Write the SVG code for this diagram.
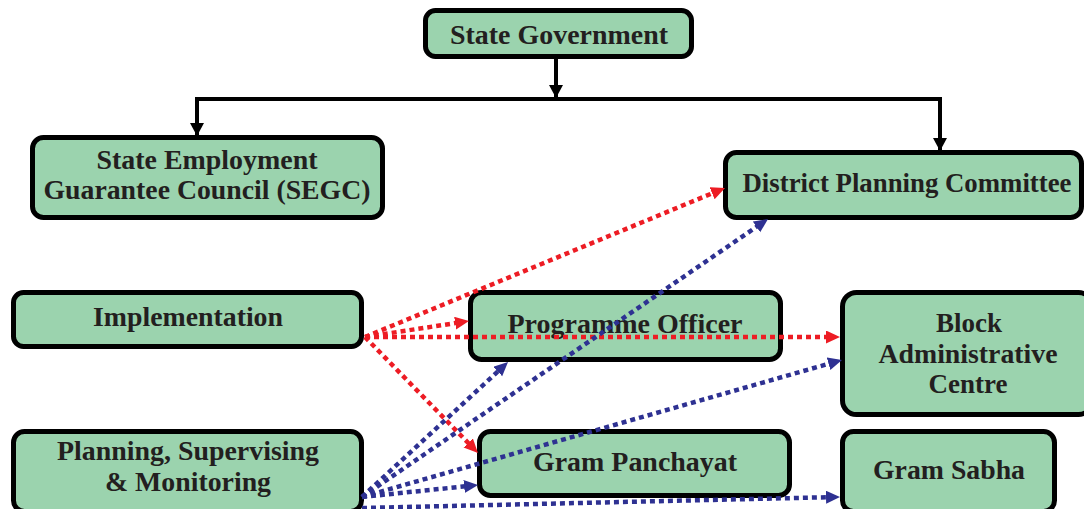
<svg xmlns="http://www.w3.org/2000/svg" width="1084" height="509" viewBox="0 0 1084 509">
<style>
.box{fill:#9bd3ae;stroke:#000;stroke-width:5}
.t{font-family:"Liberation Serif","Times New Roman",serif;font-weight:bold;font-size:27px;fill:#231f20;text-anchor:middle}
.blk{fill:none;stroke:#000;stroke-width:4}
.red{fill:none;stroke:#ed1c24;stroke-width:4.5;stroke-dasharray:5 4}
.blue{fill:none;stroke:#2e3192;stroke-width:4.5;stroke-dasharray:5 4}
</style>
<defs>
<marker id="ab" markerUnits="userSpaceOnUse" markerWidth="14" markerHeight="14" refX="12" refY="7" orient="auto"><path d="M0,0 L13,7 L0,14 z" fill="#000"/></marker>
<marker id="ar" markerUnits="userSpaceOnUse" markerWidth="16" markerHeight="14" refX="4" refY="6.5" orient="auto"><path d="M0,0 L14,6.5 L0,13 z" fill="#ed1c24"/></marker>
<marker id="au" markerUnits="userSpaceOnUse" markerWidth="16" markerHeight="14" refX="4" refY="6.5" orient="auto"><path d="M0,0 L14,6.5 L0,13 z" fill="#2e3192"/></marker>
</defs>
<rect width="1084" height="509" fill="#fff"/>
<g id="state-government"><rect class="box" x="425.5" y="10.5" width="266" height="46" rx="10"/><text class="t" x="559" y="44" textLength="218" lengthAdjust="spacingAndGlyphs">State Government</text></g>
<g id="segc"><rect class="box" x="32.5" y="137.5" width="350" height="80" rx="11"/><text class="t" x="207" y="169" textLength="221" lengthAdjust="spacingAndGlyphs">State Employment</text><text class="t" x="207" y="199" textLength="327" lengthAdjust="spacingAndGlyphs">Guarantee Council (SEGC)</text></g>
<g id="district-planning-committee"><rect class="box" x="725.5" y="152.5" width="356" height="65" rx="11"/><text class="t" x="907" y="192" textLength="329" lengthAdjust="spacingAndGlyphs">District Planning Committee</text></g>
<g id="implementation"><rect class="box" x="13.5" y="292.5" width="348" height="54" rx="10"/><text class="t" x="188" y="326" textLength="190" lengthAdjust="spacingAndGlyphs">Implementation</text></g>
<g id="programme-officer"><rect class="box" x="470.5" y="292.5" width="310" height="67" rx="11"/><text class="t" x="625" y="333" textLength="235" lengthAdjust="spacingAndGlyphs">Programme Officer</text></g>
<g id="block-administrative-centre"><rect class="box" x="842.5" y="292.5" width="250" height="122" rx="14"/><text class="t" x="969" y="332">Block</text><text class="t" x="968" y="363" textLength="179" lengthAdjust="spacingAndGlyphs">Administrative</text><text class="t" x="968" y="393">Centre</text></g>
<g id="planning-supervising-monitoring"><rect class="box" x="13.5" y="431.5" width="348" height="80" rx="11"/><text class="t" x="188" y="460" textLength="262" lengthAdjust="spacingAndGlyphs">Planning, Supervising</text><text class="t" x="188" y="491" textLength="166" lengthAdjust="spacingAndGlyphs">&amp; Monitoring</text></g>
<g id="gram-panchayat"><rect class="box" x="479.5" y="431.5" width="310" height="64" rx="11"/><text class="t" x="635" y="471" textLength="204" lengthAdjust="spacingAndGlyphs">Gram Panchayat</text></g>
<g id="gram-sabha"><rect class="box" x="842.5" y="431.5" width="212" height="80" rx="11"/><text class="t" x="949" y="479" textLength="152" lengthAdjust="spacingAndGlyphs">Gram Sabha</text></g>
<g id="connectors">
<path class="blk" d="M556,59 V97" marker-end="url(#ab)"/>
<path class="blk" d="M197,135 V99 H940 V150" marker-end="url(#ab)"/>
<path class="blk" d="M197,101 V135" marker-end="url(#ab)"/>
<path class="red" d="M365,337 L715.8,191.8" marker-end="url(#ar)"/>
<path class="red" d="M365,337 L459.1,322.5" marker-end="url(#ar)"/>
<path class="red" d="M365,337 L830,337" marker-end="url(#ar)"/>
<path class="red" d="M365,337 L471,445.8" marker-end="url(#ar)"/>
<path class="blue" d="M362,497 L759.8,224.6" marker-end="url(#au)"/>
<path class="blue" d="M362,497 L500.7,368.8" marker-end="url(#au)"/>
<path class="blue" d="M362,497 L832.4,362.7" marker-end="url(#au)"/>
<path class="blue" d="M362,497 L468.1,486" marker-end="url(#au)"/>
<path class="blue" d="M362,508 L830,497.2" marker-end="url(#au)"/>
</g>
</svg>
